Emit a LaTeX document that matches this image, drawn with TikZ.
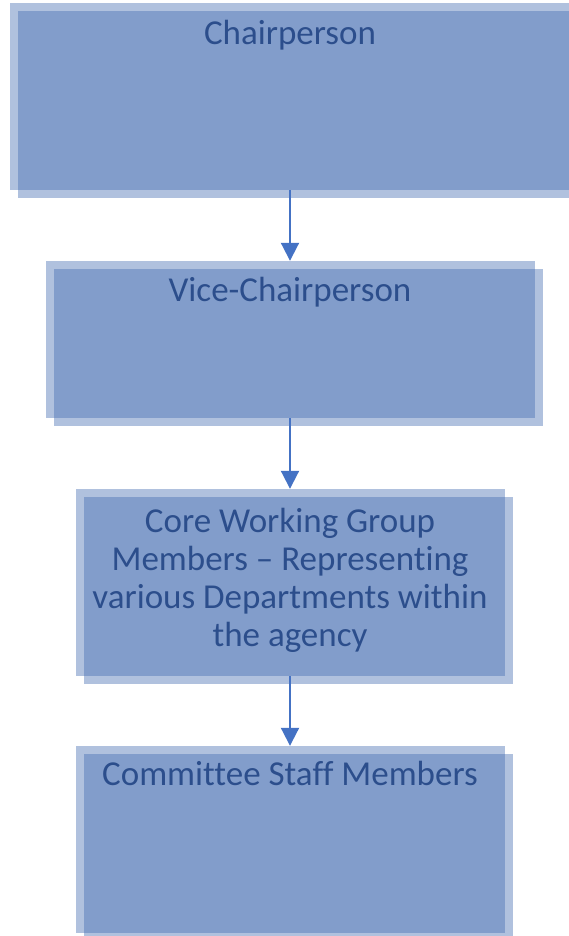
\documentclass[tikz,border=0pt]{standalone}
\usepackage{fontspec}
\setmainfont{Carlito}[Ligatures=CommonOff]
\usetikzlibrary{arrows.meta,positioning,shadows}
\definecolor{boxblue}{RGB}{71,111,178}
\definecolor{txtblue}{RGB}{44,78,140}
\definecolor{arrowblue}{RGB}{68,114,196}

\begin{document}
\begin{tikzpicture}[x=1pt,y=-1pt,
  box/.style={rectangle,fill=boxblue,fill opacity=0.43,inner sep=0pt,
    drop shadow={shadow xshift=8pt,shadow yshift=-8pt,fill=boxblue,opacity=0.43}},
  title/.style={anchor=north,inner sep=0pt,text=txtblue,align=center,
    font=\fontsize{35}{38}\selectfont},
  link/.style={-{Triangle[width=18pt,length=18pt]},line width=2pt,draw=arrowblue}]
\useasboundingbox (0,0) rectangle (568,936);

% Committee levels
\node[box,minimum width=560pt,minimum height=187pt] (chair) at (290,96.5) {};
\node[box,minimum width=489pt,minimum height=157pt] (vice) at (290,339.5) {};
\node[box,minimum width=429pt,minimum height=187pt] (core) at (290,582.5) {};
\node[box,minimum width=429pt,minimum height=187pt] (staff) at (290,839.5) {};

% Titles, set at the top of each box
\node[title,below=17pt of chair.north] (chairtxt) {Chairperson};
\node[title,below=16pt of vice.north] (vicetxt) {Vice-Chairperson};
\node[title,below=19pt of core.north] (coretxt) {Core Working Group\\Members -- Representing\\various Departments within\\the agency};
\node[title,below=15pt of staff.north] (stafftxt) {Committee Staff Members};

\draw[link] (chair) -- (vice);
\draw[link] (vice) -- (core);
\draw[link] (core) -- (staff);
\end{tikzpicture}
\end{document}
